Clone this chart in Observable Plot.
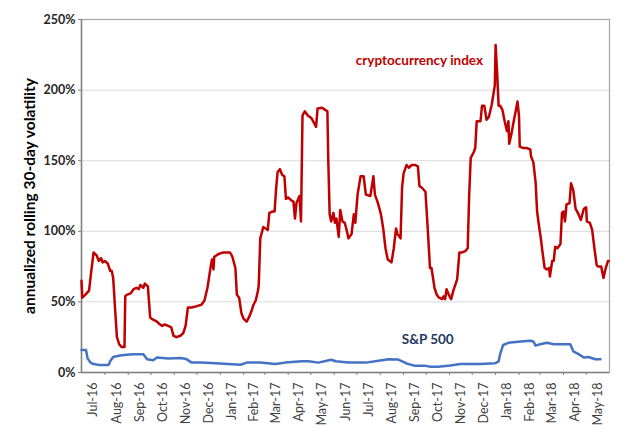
<!DOCTYPE html>
<html>
<head>
<meta charset="utf-8">
<script src="https://cdn.jsdelivr.net/npm/d3@7"></script>
<script src="https://cdn.jsdelivr.net/npm/@observablehq/plot@0.6"></script>
<style>
  html, body { margin: 0; padding: 0; background: #fff; }
  #chart { width: 640px; height: 438px; }
</style>
</head>
<body>
<div id="chart"></div>
<script>
// ---- data ----
const cryptoDates = [
  "2016-07-01","2016-07-02","2016-07-06","2016-07-11","2016-07-14","2016-07-17","2016-07-21","2016-07-24","2016-07-27","2016-07-29",
  "2016-08-01","2016-08-05","2016-08-08","2016-08-10","2016-08-12","2016-08-15","2016-08-17","2016-08-20","2016-08-23","2016-08-27",
  "2016-08-28","2016-08-30","2016-09-04","2016-09-08","2016-09-12","2016-09-15","2016-09-17","2016-09-21","2016-09-23","2016-09-27",
  "2016-09-30","2016-10-02","2016-10-09","2016-10-13","2016-10-16","2016-10-19","2016-10-24","2016-10-28","2016-10-31","2016-11-04",
  "2016-11-09","2016-11-13","2016-11-16","2016-11-19","2016-11-24","2016-12-01","2016-12-07","2016-12-11","2016-12-15","2016-12-19",
  "2016-12-21","2016-12-23","2016-12-24","2016-12-30","2017-01-05","2017-01-14","2017-01-17","2017-01-21","2017-01-23","2017-01-26",
  "2017-01-29","2017-02-01","2017-02-05","2017-02-08","2017-02-11","2017-02-14","2017-02-17","2017-02-20","2017-02-21","2017-02-23",
  "2017-02-25","2017-02-27","2017-03-02","2017-03-05","2017-03-07","2017-03-11","2017-03-14","2017-03-16","2017-03-18","2017-03-21",
  "2017-03-24","2017-03-27","2017-03-29","2017-04-01","2017-04-05","2017-04-08","2017-04-10","2017-04-12","2017-04-16","2017-04-18",
  "2017-04-20","2017-04-23","2017-04-27","2017-05-02","2017-05-06","2017-05-08","2017-05-10","2017-05-16","2017-05-20","2017-05-23",
  "2017-05-24","2017-05-26","2017-05-28","2017-05-31","2017-06-02","2017-06-04","2017-06-07","2017-06-09","2017-06-12","2017-06-15",
  "2017-06-17","2017-06-20","2017-06-24","2017-06-27","2017-06-29","2017-07-02","2017-07-06","2017-07-10","2017-07-13","2017-07-19",
  "2017-07-23","2017-07-25","2017-07-29","2017-08-02","2017-08-05","2017-08-08","2017-08-11","2017-08-16","2017-08-19","2017-08-22",
  "2017-08-24","2017-08-28","2017-08-30","2017-09-01","2017-09-05","2017-09-08","2017-09-12","2017-09-16","2017-09-20","2017-09-22",
  "2017-09-25","2017-09-30","2017-10-03","2017-10-06","2017-10-08","2017-10-12","2017-10-15","2017-10-18","2017-10-22","2017-10-24",
  "2017-10-26","2017-10-28","2017-10-31","2017-11-03","2017-11-06","2017-11-11","2017-11-14","2017-11-17","2017-11-22","2017-11-25",
  "2017-11-27","2017-11-29","2017-12-03","2017-12-05","2017-12-07","2017-12-12","2017-12-14","2017-12-17","2017-12-20","2017-12-23",
  "2017-12-27","2017-12-31","2018-01-01","2018-01-03","2018-01-05","2018-01-07","2018-01-10","2018-01-13","2018-01-16","2018-01-18",
  "2018-01-19","2018-01-22","2018-01-25","2018-01-28","2018-01-30","2018-02-01","2018-02-02","2018-02-06","2018-02-11","2018-02-16",
  "2018-02-17","2018-02-20","2018-02-23","2018-02-25","2018-02-28","2018-03-02","2018-03-04","2018-03-07","2018-03-10","2018-03-13",
  "2018-03-14","2018-03-17","2018-03-19","2018-03-21","2018-03-24","2018-03-28","2018-03-30","2018-04-01","2018-04-03","2018-04-05",
  "2018-04-09","2018-04-11","2018-04-14","2018-04-17","2018-04-21","2018-04-24","2018-04-28","2018-05-01","2018-05-02","2018-05-06",
  "2018-05-09","2018-05-12","2018-05-15","2018-05-17","2018-05-21","2018-05-24","2018-05-27","2018-05-30","2018-05-31"
];
const cryptoVol = [
  65,53,55,58,72,85,83,79,81,78,
  79,77,72,72,67,41,25,20,18,18,
  54,55,56,59,60,59,62,60,63,61,
  39,38,36,34,33,34,33,32,26,25,
  26,28,33,46,46,47,48,51,60,74,
  80,73,82,84,85,85,82,74,55,53,
  42,38,36,39,43,48,51,58,62,95,
  99,103,102,101,113,114,114,130,142,144,
  140,139,123,124,122,121,109,120,125,107,
  182,185,182,180,176,174,187,187.5,186,185,
  154,112,107,113,106,109,96,115,107,106,
  102,95,98,112,106,126,139,139,126,125,
  139,126,120,112,102,88,80,78,88,102,
  98,95,131,141,147,145,147,147,146,132,
  131,128,102,74,74,60,55,53,52,54,
  52,59,55,52,58,66,85,85,86,88,
  126,152,156,159,178,178,189,189,179,181,
  190,203.5,232,213,189,189,186,178,171,178,
  162,169,178,186,192,182,160,159,159,158,
  153,149,135,114,102,95,86,74,73,74,
  68,79,79,89,88,91,113,114,107,119,
  120,134,129,116,112,108,116,117,107,106,
  101,88,76,75,75,67,74,79,79
];
const spDates = [
  "2016-07-01","2016-07-07","2016-07-09","2016-07-13","2016-07-17","2016-07-24","2016-08-06","2016-08-08","2016-08-12","2016-08-21",
  "2016-08-30","2016-09-08","2016-09-21","2016-09-26","2016-10-04","2016-10-09","2016-10-24","2016-11-09","2016-11-17","2016-11-24",
  "2016-12-06","2016-12-26","2017-01-17","2017-01-28","2017-02-05","2017-02-23","2017-03-15","2017-03-28","2017-04-19","2017-04-28",
  "2017-05-11","2017-05-28","2017-06-03","2017-06-20","2017-07-13","2017-08-01","2017-08-12","2017-08-25","2017-09-05","2017-09-16",
  "2017-09-30","2017-10-07","2017-10-17","2017-11-02","2017-11-15","2017-12-12","2017-12-31","2018-01-05","2018-01-07","2018-01-11",
  "2018-01-18","2018-02-03","2018-02-16","2018-02-20","2018-02-23","2018-03-01","2018-03-10","2018-03-19","2018-04-10","2018-04-14",
  "2018-04-21","2018-04-28","2018-05-04","2018-05-13","2018-05-20"
];
const spVol = [
  16,16,10,7,6,5.4,5.4,8,11,12,
  12.5,13,13,9.4,8.7,10.6,10,10.3,9.5,7,
  7,6.5,5.8,5.5,7,7,6,7,8,8,
  7,9,8,7,7,8.5,9.4,9.2,6.4,4.7,
  4.7,4,4,5,6,6,6.5,7.8,13,19.5,
  21,22,22.5,22,19,20,21,20,20,15,
  13,10.6,11,9.4,9.4
];
const yTicks = [0, 50, 100, 150, 200, 250];
const seriesLabels = ["cryptocurrency index", "S&P 500"];
const labelDates = ["2017-09-22", "2017-10-03"];
const labelValues = [221, 23];
const yTitle = "annualized rolling 30-day volatility";

// ---- build tables ----
const parse = d3.utcParse("%Y-%m-%d");
const crypto = cryptoDates.map((d, i) => ({date: parse(d), v: cryptoVol[i]}));
const sp = spDates.map((d, i) => ({date: parse(d), v: spVol[i]}));
const notes = seriesLabels.map((t, i) => ({text: t, date: parse(labelDates[i]), v: labelValues[i]}));

const x0 = parse("2016-07-01"), x1 = parse("2018-06-01");
const monthStarts = d3.utcMonth.range(d3.utcMonth.offset(x0, 1), x1);
const allMonths = d3.utcMonth.range(x0, x1);
const midMonths = allMonths.map(m => new Date((+m + +d3.utcMonth.offset(m, 1)) / 2));
const fmt = d3.utcFormat("%b-%y");

const FONT = "Lato, 'Open Sans', 'Liberation Sans', sans-serif";
const RED = "#C00000", BLUE = "#4472C4", NAVY = "#1F3864";

const chart = Plot.plot({
  width: 640,
  height: 438,
  marginLeft: 81,
  marginRight: 31,
  marginTop: 19,
  marginBottom: 66,
  style: {fontFamily: FONT, background: "#fff"},
  x: {type: "utc", domain: [x0, x1]},
  y: {domain: [0, 250]},
  marks: [
    Plot.gridY(yTicks.filter(t => t > 0 && t < 250), {stroke: "#d9d9d9", strokeOpacity: 1, strokeWidth: 1}),
    Plot.frame({stroke: "#a6a6a6", strokeWidth: 1.2}),
    Plot.ruleX([x0], {stroke: "#808080", strokeWidth: 1.5}),
    Plot.ruleY([0], {stroke: "#808080", strokeWidth: 1.5}),
    Plot.axisY({ticks: yTicks, tickFormat: d => d + "%", tickSize: 3, tickPadding: 3, stroke: "#808080",
      fontSize: 12.5, fontWeight: "bold", fill: "#262626", label: null}),
    Plot.axisX({ticks: monthStarts, tickFormat: () => "", tickSize: 3, stroke: "#808080", label: null}),
    Plot.axisX({ticks: midMonths, tickFormat: fmt, tickSize: 0, tickPadding: 10, tickRotate: -90,
      fontSize: 12.5, fill: "#404040", label: null}),
    Plot.lineY(sp, {x: "date", y: "v", stroke: BLUE, strokeWidth: 2.5}),
    Plot.lineY(crypto, {x: "date", y: "v", stroke: RED, strokeWidth: 2.5}),
    Plot.text(notes, {x: "date", y: "v", text: "text", fill: (d, i) => i === 0 ? RED : NAVY,
      fontSize: 13.5, fontWeight: "bold"}),
    Plot.text([yTitle], {frameAnchor: "left", textAnchor: "middle", rotate: -90, dx: -51,
      fontSize: 15.5, fontWeight: "bold", fill: "#000"})
  ]
});
document.getElementById("chart").append(chart);
</script>
</body>
</html>
